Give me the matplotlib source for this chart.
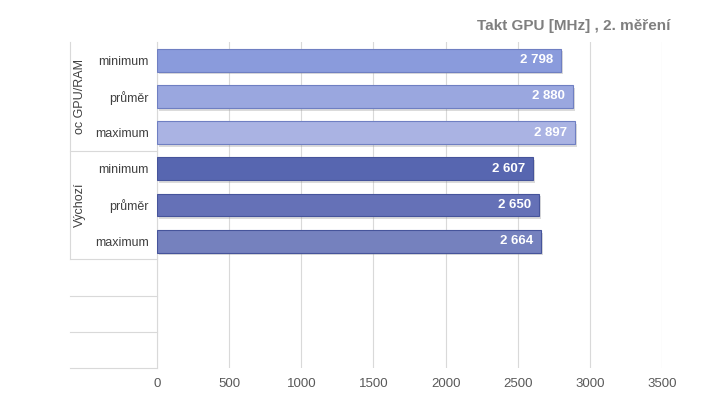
import matplotlib
matplotlib.use("Agg")
import matplotlib.pyplot as plt
import matplotlib.transforms as mtransforms
import matplotlib.patheffects as pe

plt.rcParams['font.family'] = ['Liberation Sans', 'DejaVu Sans']

groups = ["oc GPU/RAM", "Výchozí"]
categories = ["minimum", "průměr", "maximum"]
values_oc = [2798, 2880, 2897]
values_def = [2607, 2650, 2664]
colors_oc = ["#8a9bdc", "#9aa7df", "#aab3e3"]
colors_def = ["#5766b0", "#6571b7", "#7581be"]
edge_oc = "#6f7fc2"
edge_def = "#46549b"
xticks = [0, 500, 1000, 1500, 2000, 2500, 3000, 3500]
title = "Takt GPU [MHz] , 2. měření"
n_slots = 9

W, H = 719, 407
fig = plt.figure(figsize=(W / 100, H / 100), dpi=100)
ax = fig.add_axes([157 / W, (H - 368) / H, (662 - 157) / W, (368 - 42) / H])

values = values_oc + values_def
colors = colors_oc + colors_def
edges = [edge_oc] * 3 + [edge_def] * 3
labels = categories + categories
ypos = list(range(len(values)))

bars = ax.barh(ypos, values, height=0.63, color=colors, edgecolor=edges,
               linewidth=0.8, zorder=3)
for b in bars:
    b.set_path_effects([pe.SimplePatchShadow(offset=(1.5, -2), shadow_rgbFace="#999999", alpha=0.35),
                        pe.Normal()])

def fmt(v):
    return f"{v:,}".replace(",", " ")

for y, v in zip(ypos, values):
    ax.text(v - 55, y, fmt(v), ha="right", va="center", color="white",
            fontsize=9.5, fontweight="bold", zorder=4)

ax.set_xlim(0, 3500)
ax.set_ylim(n_slots - 0.5, -0.5)
ax.set_xticks(xticks)
ax.set_xticklabels([str(t) for t in xticks], color="#595959", fontsize=9.5)
ax.set_yticks(ypos)
ax.set_yticklabels(labels, color="#404040", fontsize=9)
ax.tick_params(axis="both", length=0)
ax.tick_params(axis="y", pad=6)
ax.tick_params(axis="x", pad=7)

ax.grid(axis="x", color="#d9d9d9", linewidth=0.8, zorder=0)
for s in ["top", "right", "bottom"]:
    ax.spines[s].set_visible(False)
ax.spines["left"].set_color("#d9d9d9")
ax.spines["left"].set_linewidth(0.8)

trans = mtransforms.blended_transform_factory(fig.transFigure, ax.transData)
x0 = 70 / W
x1 = 157 / W
# horizontal separators
for yb in [2.5, 5.5, 6.5, 7.5, 8.5]:
    ax.plot([x0, x1], [yb, yb], transform=trans, color="#d9d9d9",
            linewidth=0.8, clip_on=False)
# vertical line of group column
ax.plot([x0, x0], [-0.5, 5.5], transform=trans, color="#d9d9d9",
        linewidth=0.8, clip_on=False)

gx = 80 / W
for i, g in enumerate(groups):
    ax.text(gx, 1 + 3 * i, g, transform=trans, rotation=90, ha="center",
            va="center", color="#404040", fontsize=9)

fig.text(670 / W, (H - 26) / H, title, ha="right", va="center",
         color="#7f7f7f", fontsize=11, fontweight="bold")

fig.savefig("out.png", dpi=100)
